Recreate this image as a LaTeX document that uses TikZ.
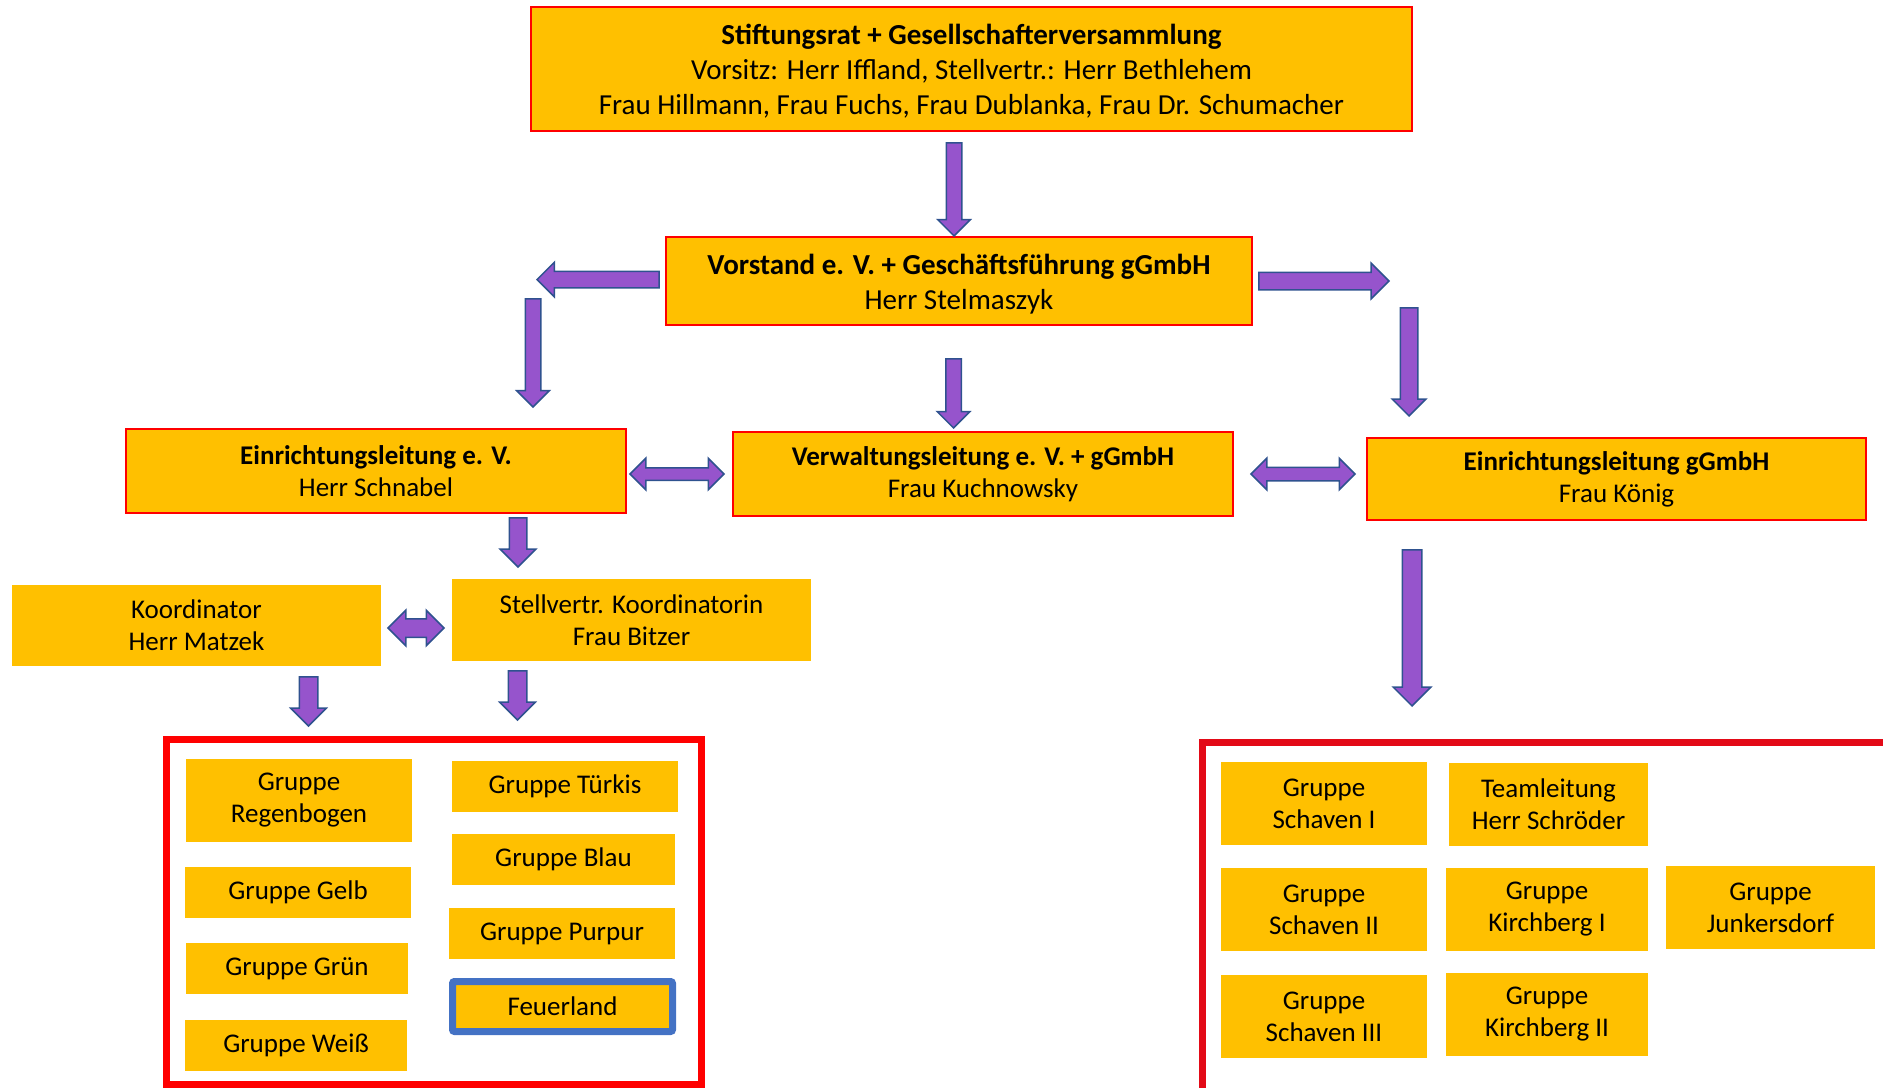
\documentclass[tikz,border=0pt]{standalone}
\usepackage{fontspec}
\setmainfont{Carlito}
\usetikzlibrary{shapes.arrows}
\definecolor{gold}{RGB}{255,192,0}
\definecolor{arrowfill}{RGB}{150,84,204}
\definecolor{arrowline}{RGB}{47,82,143}
\definecolor{frameblue}{RGB}{68,114,196}
\definecolor{framered}{RGB}{227,10,23}

\begin{document}
\begin{tikzpicture}[x=1pt,y=-1pt,
		font=\fontsize{27}{32}\selectfont,
		box/.style={fill=gold, inner sep=0pt, align=center},
		headbox/.style={box, draw=red, line width=1.5pt},
		bigtext/.style={font=\fontsize{29}{35}\selectfont},
		blockarrow/.style={fill=arrowfill, draw=arrowline, line width=1.5pt, inner xsep=0pt},
		sarrow/.style={blockarrow, single arrow, anchor=tip, single arrow head extend=#1},
		darrow/.style={blockarrow, double arrow, double arrow head extend=#1}]
		\useasboundingbox (0,0) rectangle (1883,1088);
		\clip (0,0) rectangle (1883,1088);
		% leitung
		\node[headbox, bigtext, minimum width=881, minimum height=124] (stift) at (971.5,69)
		{\rule{0pt}{25pt}\textbf{Stiftungsrat + Gesellschafterversammlung}\\Vorsitz: Herr Iffland, Stellvertr.: Herr Bethlehem\\Frau Hillmann, Frau Fuchs, Frau Dublanka, Frau Dr. Schumacher};
		\node[headbox, bigtext, minimum width=586, minimum height=88] (vorstand) at (959,281)
		{\rule{0pt}{27pt}\textbf{Vorstand e. V. + Geschäftsführung gGmbH}\\Herr Stelmaszyk};
		\node[headbox, minimum width=500, minimum height=84] (einrev) at (376,471)
		{\textbf{Einrichtungsleitung e. V.}\\Herr Schnabel};
		\node[headbox, minimum width=500, minimum height=84] (verw) at (983,474)
		{\textbf{Verwaltungsleitung e. V. + gGmbH}\\Frau Kuchnowsky};
		\node[headbox, minimum width=499, minimum height=82] (einrg) at (1616.5,479)
		{\textbf{Einrichtungsleitung gGmbH}\\Frau König};
		\node[box, minimum width=369, minimum height=81] (koord) at (196.5,625.5) {Koordinator\\Herr Matzek};
		\node[box, minimum width=359, minimum height=82] (stellv) at (631.5,620) {Stellvertr. Koordinatorin\\Frau Bitzer};

		% pfeile
		\node[sarrow=8.5, rotate=-90, minimum height=93, inner ysep=7] (a1) at (954,237) {};
		\node[sarrow=9, rotate=180, minimum height=122, inner ysep=7.5] (a2) at (536,279.5) {};
		\node[sarrow=9, minimum height=130, inner ysep=8] (a3) at (1390,281) {};
		\node[sarrow=8.5, rotate=-90, minimum height=108, inner ysep=7] (a4) at (533,408) {};
		\node[sarrow=8, rotate=-90, minimum height=108, inner ysep=8] (a5) at (1409,417) {};
		\node[sarrow=8.5, rotate=-90, minimum height=69, inner ysep=7] (a6) at (953.5,429) {};
		\node[darrow=9.5, minimum height=94, inner ysep=5.5] (a7) at (677,474) {};
		\node[darrow=9, minimum height=104, inner ysep=6] (a8) at (1303,474) {};
		\node[sarrow=9, rotate=-90, minimum height=49, inner ysep=8] (a9) at (518,568) {};
		\node[darrow=8.5, minimum height=56, inner ysep=8.5] (a10) at (416,628) {};
		\node[sarrow=8.5, rotate=-90, minimum height=49, inner ysep=8.5] (a11) at (308.5,727) {};
		\node[sarrow=8.5, rotate=-90, minimum height=49, inner ysep=8.5] (a12) at (517.5,721) {};
		\node[sarrow=9, rotate=-90, minimum height=156, inner ysep=9] (a13) at (1412,707) {};

		% gruppen e. V.
		\node[draw=red, line width=7pt, inner sep=0pt, minimum width=535, minimum height=345] (evframe) at (433.5,912) {};
		\node[box, minimum width=226, minimum height=83] (regen) at (299,800.5) {Gruppe\\Regenbogen};
		\node[box, minimum width=226, minimum height=51] (gelb) at (298,892.5) {Gruppe Gelb};
		\node[box, minimum width=222, minimum height=51] (gruen) at (297,968.5) {Gruppe Grün};
		\node[box, minimum width=222, minimum height=51] (weiss) at (296,1045.5) {Gruppe Weiß};
		\node[box, minimum width=226, minimum height=51] (tuerkis) at (565,786.5) {Gruppe Türkis};
		\node[box, minimum width=223, minimum height=51] (blau) at (563.5,859.5) {Gruppe Blau};
		\node[box, minimum width=226, minimum height=51] (purpur) at (562,933.5) {Gruppe Purpur};
		\node[box, draw=frameblue, line width=7pt, rounded corners=2pt, minimum width=220, minimum height=50] (feuer) at (562.5,1006.5) {Feuerland};

		% gruppen gGmbH
		\draw[framered, line width=7pt] (1883,742) -- (1202,742) -- (1202,1088);
		\node[box, minimum width=206, minimum height=83] (schav1) at (1324,803.5) {Gruppe\\Schaven I};
		\node[box, minimum width=199, minimum height=83] (team) at (1548.5,804.5) {Teamleitung\\Herr Schröder};
		\node[box, minimum width=206, minimum height=83] (schav2) at (1324,909.5) {Gruppe\\Schaven II};
		\node[box, minimum width=202, minimum height=83] (kirch1) at (1547,909.5) {Gruppe\\Kirchberg I};
		\node[box, minimum width=209, minimum height=83] (junk) at (1770.5,907.5) {Gruppe\\Junkersdorf};
		\node[box, minimum width=206, minimum height=83] (schav3) at (1324,1016.5) {Gruppe\\Schaven III};
		\node[box, minimum width=202, minimum height=83] (kirch2) at (1547,1014.5) {Gruppe\\Kirchberg II};
	\end{tikzpicture}
\end{document}
